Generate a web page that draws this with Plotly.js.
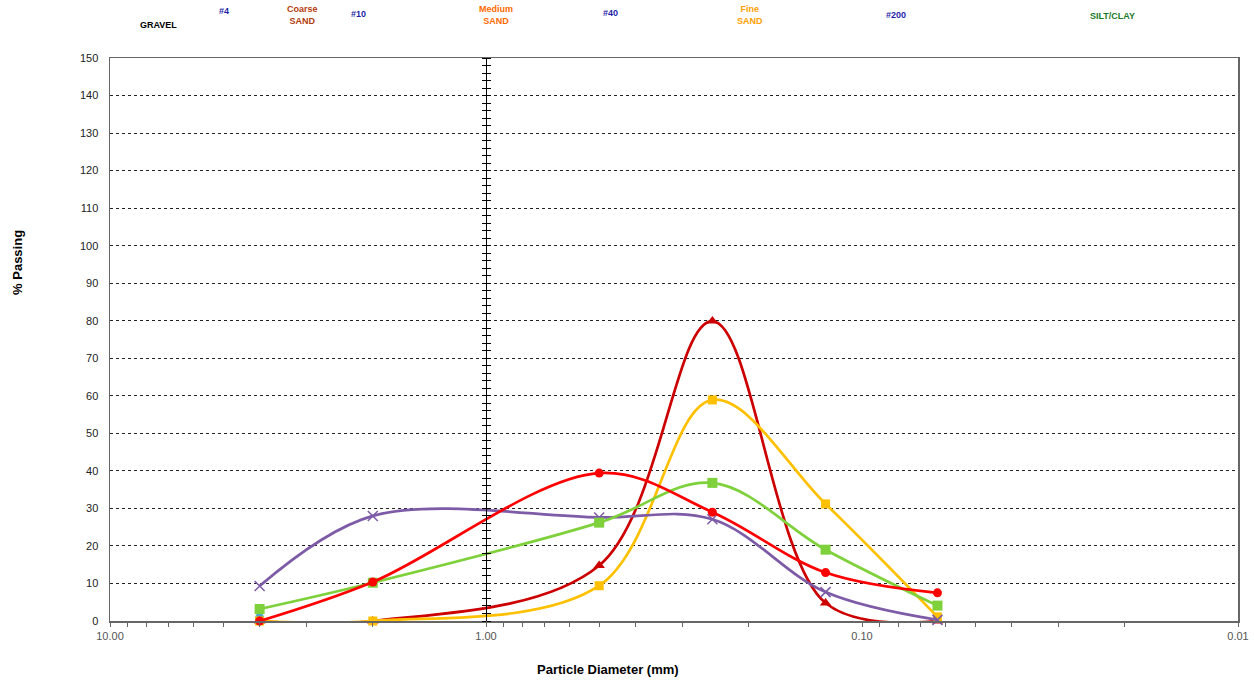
<!DOCTYPE html>
<html>
<head>
<meta charset="utf-8">
<script src="https://cdn.plot.ly/plotly-3.0.1.min.js"></script>
<style>html,body{margin:0;padding:0;background:#fff;}#chart{width:1254px;height:681px;}</style>
</head>
<body>
<div id="chart"></div>
<script>
// Sieve sizes (mm)
const sizes = [4.0, 2.0, 0.5, 0.25, 0.125, 0.063];
// Series (% passing / retained)
const purpleX   = [9.3, 28.0, 27.6, 27.1, 7.7, 0.3];
const greenSq   = [3.2, 10.2, 26.2, 36.8, 19.0, 4.1];
const redCirc   = [0.0, 10.4, 39.4, 29.0, 12.9, 7.5];
const darkRedTri= [0.0, 0.0, 14.8, 79.9, 4.8, 0.0];
const orangeSq  = [0.0, 0.0, 9.4, 58.9, 31.2, 1.1];
const blueSizes = [4.0];
const blueCirc  = [0.9];

// Axis tick labels
const decades = [10, 1, 0.1, 0.01];
const decadeLabels = ["10.00", "1.00", "0.10", "0.01"];

// Top zone labels
const zoneLabels = ["GRAVEL", "#4", "Coarse<br>SAND", "#10", "Medium<br>SAND", "#40", "Fine<br>SAND", "#200", "SILT/CLAY"];

const tickvals = [], ticktext = [];
decades.forEach((d, i) => {
  tickvals.push(d); ticktext.push(decadeLabels[i]);
  if (i < decades.length - 1) {
    for (let k = 9; k >= 2; k--) { tickvals.push(d / 10 * k); ticktext.push(""); }
  }
});

function series(y, color, symbol, size, xs) {
  return {
    x: xs || sizes, y: y, type: 'scatter', mode: 'lines+markers',
    line: {color: color, width: 2.7, shape: 'spline', smoothing: 1},
    marker: {color: color, symbol: symbol, size: size,
             line: {color: color, width: symbol === 'x-thin' ? 1.5 : 0}},
    cliponaxis: false, hoverinfo: 'skip'
  };
}

const data = [
  series(blueCirc, '#4bacc6', 'circle', 9, blueSizes),
  series(darkRedTri, '#cc0000', 'triangle-up', 10),
  series(orangeSq, '#ffc000', 'square', 9),
  series(purpleX, '#7d5ba6', 'x-thin', 10),
  series(greenSq, '#7ed13b', 'square', 10),
  series(redCirc, '#ff0000', 'circle', 9),
  {x: [], y: [], yaxis: 'y2', type: 'scatter', hoverinfo: 'skip'},
  {x: [], y: [], yaxis: 'y3', type: 'scatter', hoverinfo: 'skip'}
];

const zonePos = [
  [0.0426, 1.0586, '#000000'],
  [0.101, 1.0835, '#1f1fa8'],
  [0.171, 1.0755, '#b33c0c'],
  [0.2199, 1.078, '#1f1fa8'],
  [0.342, 1.0755, '#ff6a00'],
  [0.444, 1.080, '#1f1fa8'],
  [0.567, 1.0755, '#ffa000'],
  [0.6968, 1.0764, '#1f1fa8'],
  [0.889, 1.0746, '#1a7a2a']
];

const annotations = zoneLabels.map((t, i) => ({
  text: '<b>' + t + '</b>', xref: 'paper', yref: 'paper',
  x: zonePos[i][0], y: zonePos[i][1], xanchor: 'center', yanchor: 'middle',
  showarrow: false, font: {family: 'Arial, Liberation Sans, sans-serif', size: 9, color: zonePos[i][2]}
}));
annotations.push({
  text: '<b>% Passing</b>', xref: 'paper', yref: 'paper', x: -0.0816, y: 0.6377,
  textangle: -90, showarrow: false, xanchor: 'center', yanchor: 'middle',
  font: {family: 'Arial, Liberation Sans, sans-serif', size: 13, color: '#000'}
});
annotations.push({
  text: '<b>Particle Diameter (mm)</b>', xref: 'paper', yref: 'paper', x: 0.4415, y: -0.087,
  showarrow: false, xanchor: 'center', yanchor: 'middle',
  font: {family: 'Arial, Liberation Sans, sans-serif', size: 13, color: '#000'}
});

const layout = {
  width: 1254, height: 681,
  margin: {l: 110, r: 16, t: 58, b: 60},
  paper_bgcolor: '#fff', plot_bgcolor: '#fff',
  showlegend: false, hovermode: false,
  font: {family: 'Arial, Liberation Sans, sans-serif', size: 11, color: '#444'},
  xaxis: {
    type: 'log', range: [1, -2], tickvals: tickvals, ticktext: ticktext,
    ticks: 'outside', ticklen: 4, tickcolor: '#666', tickwidth: 1,
    showline: true, linecolor: '#666', linewidth: 1.5, mirror: true,
    showgrid: false, zeroline: false, tickfont: {size: 11, color: '#555'}
  },
  yaxis: {
    range: [0, 150], dtick: 10, tick0: 0, ticks: '', ticklabelstandoff: 8,
    showline: true, linecolor: '#666', linewidth: 1.5, mirror: true,
    showgrid: true, gridcolor: '#222', gridwidth: 1, griddash: 'dot',
    zeroline: false, tickfont: {size: 11, color: '#222'}
  },
  yaxis2: {
    overlaying: 'y', anchor: 'free', position: 1/3, side: 'left',
    range: [0, 150], dtick: 2, tick0: 0, ticks: 'outside', ticklen: 4,
    tickcolor: '#000', showticklabels: false, showgrid: false, zeroline: false,
    showline: true, linecolor: '#000', linewidth: 1
  },
  yaxis3: {
    overlaying: 'y', anchor: 'free', position: 1/3, side: 'right',
    range: [0, 150], dtick: 2, tick0: 0, ticks: 'outside', ticklen: 4,
    tickcolor: '#000', showticklabels: false, showgrid: false, zeroline: false,
    showline: false
  },
  annotations: annotations
};

Plotly.newPlot('chart', data, layout, {displayModeBar: false, staticPlot: true});
</script>
</body>
</html>
